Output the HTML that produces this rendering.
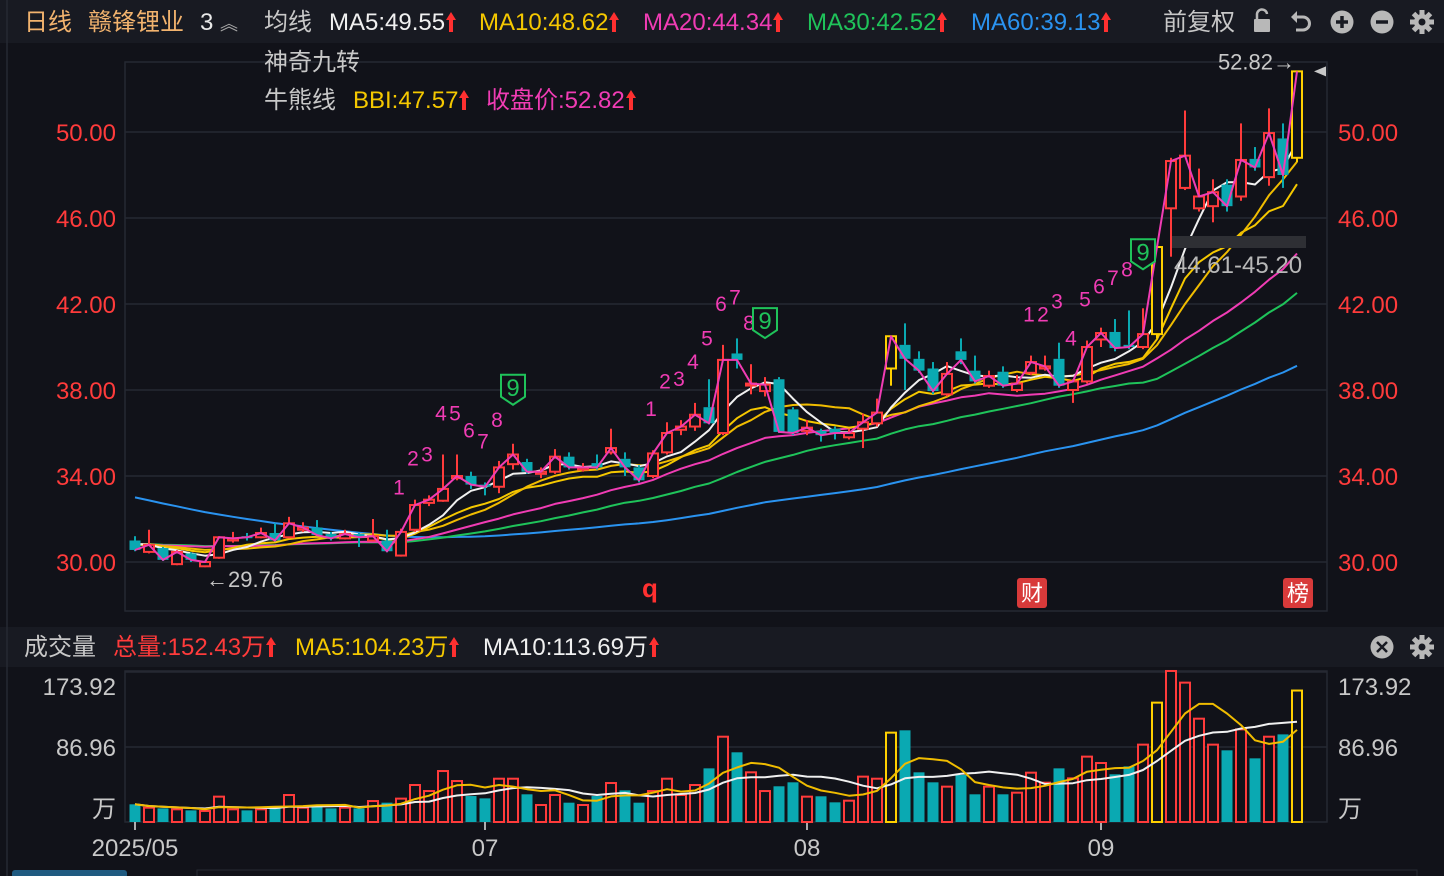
<!DOCTYPE html>
<html><head><meta charset="utf-8">
<style>
html,body{margin:0;padding:0;background:#111219;width:1444px;height:876px;overflow:hidden;font-family:"Liberation Sans","Noto Sans CJK SC",sans-serif;}
.t{position:absolute;white-space:nowrap;font-size:24px;line-height:24px;}
.up{display:inline-block;width:10px;height:20px;vertical-align:-2px;margin-left:1px;}
</style></head>
<body>
<div style="position:absolute;left:0;top:0;width:1444px;height:43px;background:#181a22;"></div>
<div style="position:absolute;left:0;top:627px;width:1444px;height:40px;background:#181a22;"></div>
<svg id="chart" width="1444" height="876" style="position:absolute;left:0;top:0" xmlns="http://www.w3.org/2000/svg"></svg>

<div class="t" style="left:24px;top:11px;color:#f2b36e">日线</div>
<div class="t" style="left:88px;top:11px;color:#f2b36e">赣锋锂业</div>
<div class="t" style="left:200px;top:11px;color:#e8e8e8">3 <span style="color:#aaa;font-size:18px">︽</span></div>
<div class="t" style="left:264px;top:11px;color:#c8c8c8">均线</div>
<div class="t" style="left:329px;top:11px;color:#f0f0f0">MA5:49.55<svg class="up" viewBox="0 0 10 20"><path d="M5 0 L10 8 H7 V20 H3 V8 H0 Z" fill="#ff3030"/></svg></div>
<div class="t" style="left:479px;top:11px;color:#f5c800">MA10:48.62<svg class="up" viewBox="0 0 10 20"><path d="M5 0 L10 8 H7 V20 H3 V8 H0 Z" fill="#ff3030"/></svg></div>
<div class="t" style="left:643px;top:11px;color:#f03cb4">MA20:44.34<svg class="up" viewBox="0 0 10 20"><path d="M5 0 L10 8 H7 V20 H3 V8 H0 Z" fill="#ff3030"/></svg></div>
<div class="t" style="left:807px;top:11px;color:#1fc35a">MA30:42.52<svg class="up" viewBox="0 0 10 20"><path d="M5 0 L10 8 H7 V20 H3 V8 H0 Z" fill="#ff3030"/></svg></div>
<div class="t" style="left:971px;top:11px;color:#2a93f0">MA60:39.13<svg class="up" viewBox="0 0 10 20"><path d="M5 0 L10 8 H7 V20 H3 V8 H0 Z" fill="#ff3030"/></svg></div>
<div class="t" style="left:1163px;top:11px;color:#c8c8c8">前复权</div>

<div class="t" style="left:264px;top:51px;color:#c8c8c8">神奇九转</div>
<div class="t" style="left:264px;top:89px;color:#c8c8c8">牛熊线</div>
<div class="t" style="left:353px;top:89px;color:#f5c800">BBI:47.57<svg class="up" viewBox="0 0 10 20"><path d="M5 0 L10 8 H7 V20 H3 V8 H0 Z" fill="#ff3030"/></svg></div>
<div class="t" style="left:486px;top:89px;color:#f03cb4">收盘价:52.82<svg class="up" viewBox="0 0 10 20"><path d="M5 0 L10 8 H7 V20 H3 V8 H0 Z" fill="#ff3030"/></svg></div>

<div class="t" style="left:24px;top:636px;color:#c8c8c8">成交量</div>
<div class="t" style="left:113px;top:636px;color:#ff3b3b">总量:152.43万<svg class="up" viewBox="0 0 10 20"><path d="M5 0 L10 8 H7 V20 H3 V8 H0 Z" fill="#ff3030"/></svg></div>
<div class="t" style="left:295px;top:636px;color:#f5c800">MA5:104.23万<svg class="up" viewBox="0 0 10 20"><path d="M5 0 L10 8 H7 V20 H3 V8 H0 Z" fill="#ff3030"/></svg></div>
<div class="t" style="left:483px;top:636px;color:#f0f0f0">MA10:113.69万<svg class="up" viewBox="0 0 10 20"><path d="M5 0 L10 8 H7 V20 H3 V8 H0 Z" fill="#ff3030"/></svg></div>

<script>
// ---- data ----
const open  = [31.0,30.47,30.65,29.9,30.4,29.8,30.2,31.0,31.2,31.15,31.35,31.15,31.5,31.6,31.3,31.1,31.3,31.0,31.0,30.3,31.5,32.75,32.85,33.9,34.0,33.6,33.5,34.55,34.65,34.1,34.2,34.9,34.3,34.6,35.1,34.8,34.4,34.0,35.1,36.15,36.3,37.2,36.0,39.7,38.3,37.95,38.5,37.1,36.1,36.1,36.2,35.8,36.2,36.45,39.0,40.1,39.45,39.0,37.8,39.8,38.9,38.2,38.85,38.0,38.8,39.0,39.45,38.0,38.4,40.35,40.7,40.1,40.0,40.6,46.45,47.4,46.45,46.55,47.55,47.0,48.75,47.9,49.7,48.8];
const close = [30.56,30.8,30.1,30.47,30.1,30.0,31.15,31.1,31.15,31.35,31.0,31.8,31.6,31.25,31.1,31.3,31.15,31.2,30.5,31.4,32.65,32.9,33.4,34.0,33.6,33.5,34.4,35.0,34.2,34.2,34.9,34.4,34.4,34.4,35.3,34.4,33.8,35.05,36.0,36.3,36.85,36.45,39.4,39.4,38.3,38.25,36.05,36.0,36.25,35.9,36.0,36.0,36.5,36.95,40.5,39.45,38.9,37.95,38.75,39.4,38.4,38.65,38.2,38.3,39.3,39.1,38.2,38.4,40.0,40.65,39.95,40.0,40.6,44.65,48.65,48.9,47.0,47.2,46.55,48.7,48.35,49.95,48.0,52.82];
const high  = [31.2,31.5,30.7,30.55,30.45,30.05,31.2,31.4,31.35,31.6,31.8,32.1,31.85,31.95,31.4,31.5,31.35,32.0,31.5,31.55,32.9,33.1,35.0,35.0,34.2,33.7,34.7,35.5,34.8,34.4,35.25,35.1,34.6,35.0,36.2,35.1,34.5,35.2,36.5,36.6,37.4,38.5,40.1,40.4,39.2,38.6,38.6,37.2,36.6,36.2,36.3,36.2,36.9,37.6,40.5,41.1,39.8,39.3,39.3,40.4,39.6,38.9,39.1,38.7,39.6,39.6,40.2,38.5,40.3,40.9,41.3,41.7,41.8,44.65,48.8,51.0,48.3,47.8,47.8,50.4,49.3,51.1,50.4,52.82];
const low   = [30.5,30.4,30.05,29.85,30.0,29.76,30.15,30.9,31.0,31.1,30.95,31.1,31.4,31.2,31.0,31.05,30.7,30.95,30.45,30.25,31.4,32.6,32.8,33.8,33.4,33.1,33.2,34.3,34.1,33.9,34.1,34.3,34.2,34.3,35.0,34.0,33.7,33.9,35.0,35.9,36.1,36.4,35.9,39.0,37.8,37.7,36.0,35.9,35.9,35.6,35.7,35.7,35.3,36.3,38.2,38.0,38.8,37.8,37.7,39.2,38.3,38.1,38.1,37.9,38.7,38.9,38.1,37.4,38.3,40.0,39.8,39.9,39.9,40.4,44.2,47.3,46.3,45.8,46.3,46.8,48.2,47.5,47.4,48.6];
const volume = [20.5,16.6,15.8,14.7,13.5,12.8,29.4,14.7,13.5,14.7,15.8,31.3,16.6,18.6,15.8,16.6,15.8,24.3,22.4,27.1,42.9,35.9,59.1,47.5,30.1,27.4,50.2,50.2,32.1,19.7,31.3,22.4,19.7,30.1,45.2,36.7,22.4,35.9,50.2,31.3,42.9,62.2,98.9,80.8,57.6,35.9,41.4,46.0,29.4,29.8,22.8,24.7,52.6,50.2,103.6,106.3,57.6,46.0,41.0,54.5,32.1,41.0,32.1,34.0,57.2,45.6,62.2,50.6,75.8,68.4,55.3,64.5,89.7,138.4,175.1,161.6,119.8,89.7,83.1,107.4,73.8,98.9,101.6,152.43];
// earlier closes (history before visible window) used for long moving averages
const priorClose = [39.0,38.7,38.5,38.3,38.0,37.7,37.5,37.2,37.0,36.8,36.5,36.2,35.9,35.7,35.5,35.2,34.9,34.6,34.3,34.0,33.7,33.4,33.1,32.8,32.5,32.2,31.9,31.6,31.3,31.0,30.9,31.1,30.8,30.7,30.9,31.0,31.2,30.8,30.6,30.7,30.9,31.0,30.8,30.6,30.5,30.7,30.9,31.1,31.0,30.8,30.7,30.9,31.0,30.8,30.6,30.9,31.0,30.9,30.8];
const priceTicks = [50,46,42,38,34,30];
const priceTickLabels = ["50.00","46.00","42.00","38.00","34.00","30.00"];
const volTicks = [173.92,86.96];
const volTickLabels = ["173.92","86.96"];
const monthIdx = [0,25,48,69];
const monthLabels = ["2025/05","07","08","09"];
const nineStarts = [19,37,64];

// ---- axes ----
const X0=135, STEP=14;
const xOf = i => X0 + i*STEP;
const yP = p => 562 - (p-30)*21.5;
const VBASE=822, VTOP=672, VMAX=173.92;
const yV = v => VBASE - v/VMAX*(VBASE-VTOP);

const svg=document.getElementById('chart');
const NS='http://www.w3.org/2000/svg';
function mk(tag,attrs,parent){const e=document.createElementNS(NS,tag);for(const k in attrs)e.setAttribute(k,attrs[k]);(parent||svg).appendChild(e);return e;}

let e;
e=mk('rect',{x:125,y:62,width:1202,height:549,fill:'none',stroke:'#262932','stroke-width':1.5});


e=mk('rect',{x:125,y:671,width:1202,height:151,fill:'none',stroke:'#262932','stroke-width':1.5});


e=mk('line',{x1:7,y1:0,x2:7,y2:876,stroke:'#262932','stroke-width':1.5});



priceTicks.forEach((p,k)=>{
  const y=yP(p);
  const g=mk('line',{x1:125,x2:1327,y1:y,y2:y,stroke:'#262932','stroke-width':1.5});
  
  
  const tl=mk('text',{x:116,y:y+9,'text-anchor':'end',fill:'#ff3b3b','font-size':24});
  tl.textContent=priceTickLabels[k];
  
  
  const tr=mk('text',{x:1338,y:y+9,fill:'#ff3b3b','font-size':24});
  tr.textContent=priceTickLabels[k];
  
  
});
volTicks.forEach((v,k)=>{
  const y=yV(v);
  const ly=k===0?y+23:y+9;
  const g=mk('line',{x1:125,x2:1327,y1:y,y2:y,stroke:'#262932','stroke-width':1.5});
  
  
  const tl=mk('text',{x:116,y:ly,'text-anchor':'end',fill:'#c8c8c8','font-size':24});
  tl.textContent=volTickLabels[k];
  
  
  const tr=mk('text',{x:1338,y:ly,fill:'#c8c8c8','font-size':24});
  tr.textContent=volTickLabels[k];
  
  
});
[116,1338].forEach((x,k)=>{
  const t=mk('text',{x:x,y:817,'text-anchor':k?'start':'end',fill:'#c8c8c8','font-size':24});
  t.textContent='万';
  
  
});
monthIdx.forEach((i,k)=>{
  const x=xOf(i);
  const tk=mk('line',{x1:x,x2:x,y1:822,y2:830,stroke:'#e0e0e0','stroke-width':1.5});
  
  
  const t=mk('text',{x:x,y:856,'text-anchor':'middle',fill:'#c8c8c8','font-size':24});
  t.textContent=monthLabels[k];
  
  
});

const all=priorClose.concat(close);
const P=priorClose.length;
function ma(n){return close.map((c,i)=>{let s=0;for(let j=0;j<n;j++)s+=all[P+i-j];return s/n;});}
function line(vals,yf,color,name,w){
  const d=vals.map((v,i)=>(i?'L':'M')+xOf(i).toFixed(1)+' '+yf(v).toFixed(1)).join(' ');
  const p=mk('path',{d:d,fill:'none',stroke:color,'stroke-width':w||2,'stroke-linejoin':'round'});
  
  
}
const ma3=ma(3),ma6=ma(6),ma12=ma(12),ma24=ma(24);
const bbi=close.map((c,i)=>(ma3[i]+ma6[i]+ma12[i]+ma24[i])/4);
line(ma(60),yP,'#2a93f0','ma60-line');
line(ma(30),yP,'#1fc35a','ma30-line');
line(ma(20),yP,'#f03cb4','ma20-line');
line(bbi,yP,'#f5c800','bbi-line');
line(ma(10),yP,'#f0bc00','ma10-line');
line(ma(5),yP,'#f0f0f0','ma5-line');

close.forEach((c,i)=>{
  const o=open[i],x=xOf(i);
  const prev=i?close[i-1]:c;
  const limit=c/prev>=1.095;
  const upC=c>=o;
  const col=limit?'#ffd000':(upC?'#ff3b3b':'#0aa9b2');
  const top=yP(Math.max(o,c)),bot=yP(Math.min(o,c));
  const w1=mk('line',{x1:x,x2:x,y1:yP(high[i]),y2:top,stroke:col,'stroke-width':2});
  
  
  const w2=mk('line',{x1:x,x2:x,y1:bot,y2:yP(low[i]),stroke:col,'stroke-width':2});
  
  
  const h=Math.max(bot-top,2);
  const b=upC?mk('rect',{x:x-5,y:top,width:10,height:h,fill:'#111219',stroke:col,'stroke-width':2})
             :mk('rect',{x:x-5.5,y:top,width:11,height:h,fill:col});
  
  
  const vy=yV(volume[i]);
  const vb=upC?mk('rect',{x:x-5,y:vy,width:10,height:VBASE-vy,fill:'#111219',stroke:col,'stroke-width':2})
              :mk('rect',{x:x-5.5,y:vy,width:11,height:VBASE-vy,fill:col});
  
  
});
line(close,yP,'#f03cb4','close-price-line',2);

function vma(n){return volume.map((v,i)=>{let s=0,k=0;for(let j=0;j<n&&i-j>=0;j++){s+=volume[i-j];k++;}return s/k;});}
line(vma(10),yV,'#f0f0f0','volume-ma10-line');
line(vma(5),yV,'#f0bc00','volume-ma5-line');

nineStarts.forEach(s=>{
  for(let n=1;n<=9;n++){
    const i=s+n-1,x=xOf(i),y=yP(high[i])-34;
    if(n<9){
      const t=mk('text',{x:x-2,y:y,'text-anchor':'middle',fill:'#f03cb4','font-size':21});
      t.textContent=String(n);
      
      
    }else{
      const yy=y-22;
      const p=mk('path',{d:`M${x-12} ${yy-13} H${x+12} V${yy+9} L${x} ${yy+17} L${x-12} ${yy+9} Z`,fill:'#111219',stroke:'#1fc35a','stroke-width':2});
      
      
      const t=mk('text',{x:x,y:yy+8,'text-anchor':'middle',fill:'#1fc35a','font-size':24});
      t.textContent='9';
      
      
    }
  }
});

let minI=0,maxI=0;low.forEach((v,i)=>{if(v<low[minI])minI=i;});high.forEach((v,i)=>{if(v>high[maxI])maxI=i;});
e=mk('text',{x:xOf(minI)+1,y:yP(low[minI])+20,fill:'#c8c8c8','font-size':22});
e.textContent='←'+low[minI].toFixed(2);


e=mk('text',{x:xOf(maxI)-2,y:yP(high[maxI])-2,'text-anchor':'end',fill:'#c8c8c8','font-size':22});
e.textContent=high[maxI].toFixed(2)+'→';


e=mk('path',{d:`M1314 ${yP(close[close.length-1])} L1326 ${yP(close[close.length-1])-5} L1326 ${yP(close[close.length-1])+5} Z`,fill:'#c8c8c8'});


e=mk('rect',{x:1172,y:236,width:134,height:12,fill:'#2e2f34'});


e=mk('text',{x:1238,y:273,'text-anchor':'middle',fill:'#b8b8b8','font-size':24});
e.textContent='44.61-45.20';


e=mk('text',{x:650,y:597,'text-anchor':'middle',fill:'#ff3030','font-size':26,'font-weight':'bold'});
e.textContent='q';


[[1032,'财','finance-marker'],[1298,'榜','rank-marker']].forEach(a=>{
  const r=mk('rect',{x:a[0]-15,y:578,width:30,height:30,rx:3,fill:'#d83a3a'});
  
  
  const t=mk('text',{x:a[0],y:601,'text-anchor':'middle',fill:'#fff','font-size':22});
  t.textContent=a[1];
  
  
});

const IC='#b8b8b8';
function icon(cx,cy,name,kind){
  const g=mk('g',{});
  
  
  if(kind==='lock'){mk('rect',{x:cx-8,y:cy-3,width:16,height:13,rx:1,fill:IC},g);mk('path',{d:`M${cx-5} ${cy-3} V${cy-7} A5 5 0 0 1 ${cx+5} ${cy-8}`,fill:'none',stroke:IC,'stroke-width':2.5},g);}
  if(kind==='undo'){mk('path',{d:`M${cx-7} ${cy-5} H${cx+1} A6.5 6.5 0 0 1 ${cx+1} ${cy+8} H${cx-6}`,fill:'none',stroke:IC,'stroke-width':3},g);mk('path',{d:`M${cx-11} ${cy-5} L${cx-5} ${cy-11} L${cx-5} ${cy+1} Z`,fill:IC},g);}
  if(kind==='plus'||kind==='minus'||kind==='close'){mk('circle',{cx:cx,cy:cy,r:11.5,fill:IC},g);
    if(kind==='plus')mk('path',{d:`M${cx-6} ${cy} H${cx+6} M${cx} ${cy-6} V${cy+6}`,stroke:'#181a22','stroke-width':3.5},g);
    if(kind==='minus')mk('path',{d:`M${cx-6} ${cy} H${cx+6}`,stroke:'#181a22','stroke-width':3.5},g);
    if(kind==='close')mk('path',{d:`M${cx-5} ${cy-5} L${cx+5} ${cy+5} M${cx+5} ${cy-5} L${cx-5} ${cy+5}`,stroke:'#181a22','stroke-width':2.5},g);}
  if(kind==='gear'){for(let k=0;k<8;k++){const a=k*Math.PI/4;mk('line',{x1:cx,y1:cy,x2:cx+12*Math.cos(a),y2:cy+12*Math.sin(a),stroke:IC,'stroke-width':5},g);}
    mk('circle',{cx:cx,cy:cy,r:8,fill:IC},g);mk('circle',{cx:cx,cy:cy,r:3.5,fill:'#181a22'},g);}
}
icon(1262,22,'lock-icon','lock');
icon(1302,22,'undo-icon','undo');
icon(1342,22,'zoom-in-icon','plus');
icon(1382,22,'zoom-out-icon','minus');
icon(1422,22,'settings-icon','gear');
icon(1382,647,'close-volume-icon','close');
icon(1422,647,'volume-settings-icon','gear');

e=mk('rect',{x:12,y:870,width:115,height:8,rx:3,fill:'#1f5a80'});


e=mk('rect',{x:197,y:870,width:1220,height:8,fill:'none',stroke:'#262932'});


</script>
</body></html>
